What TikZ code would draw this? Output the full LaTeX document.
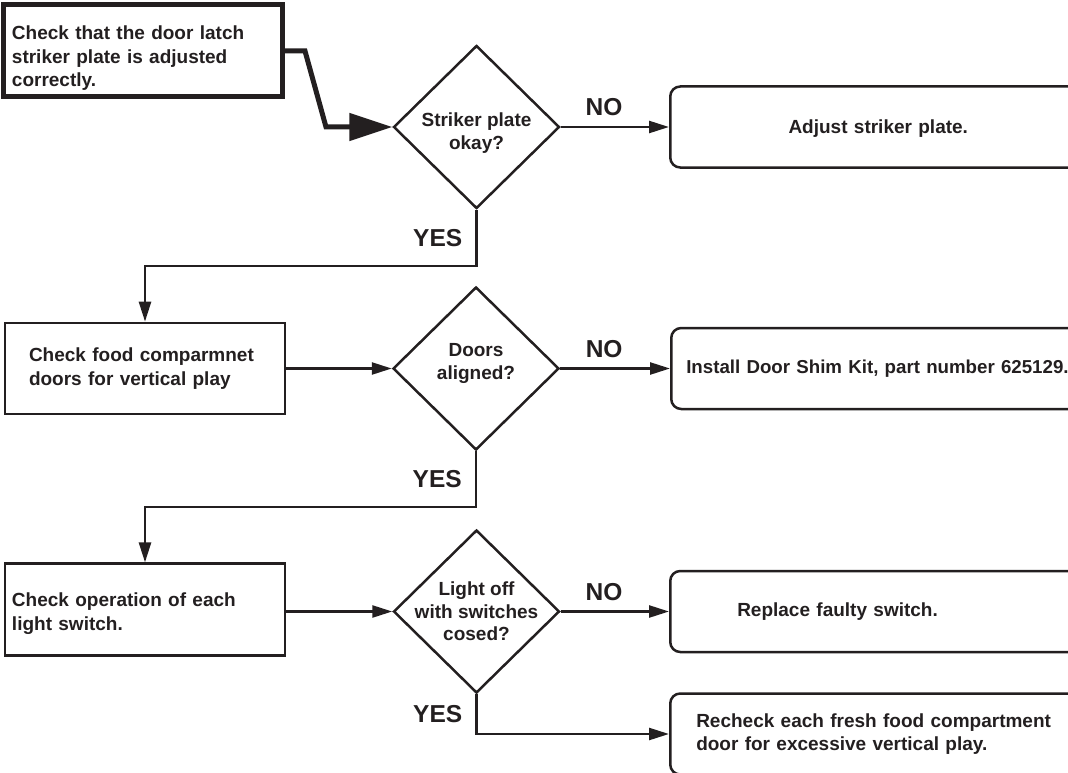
\documentclass[tikz,border=0pt]{standalone}
\usepackage{fontspec}
\setmainfont{Liberation Sans}
\usetikzlibrary{arrows.meta,shapes.geometric}
\definecolor{ink}{HTML}{231F20}

\begin{document}
\begin{tikzpicture}[x=1pt,y=-1pt,
  every node/.style={text=ink,font=\bfseries\fontsize{19}{23.7}\selectfont},
  stepbox/.style={draw=ink,line width=2.7pt,rectangle,minimum width=280pt,minimum height=91pt,align=left},
  fixbox/.style={draw=ink,line width=2.5pt,rounded corners=10pt,anchor=west,minimum height=81pt},
  decision/.style={draw=ink,line width=2.5pt,diamond,minimum width=166pt,minimum height=163pt,inner sep=0pt},
  qtext/.style={align=center,font=\bfseries\fontsize{19}{22.5}\selectfont},
  answer/.style={inner sep=0pt,font=\bfseries\fontsize{24.5}{26}\selectfont},
  flow/.style={draw=ink,line width=2.5pt,-{Triangle[length=20pt,width=12pt]}},
  bigflow/.style={draw=ink,line width=5pt,-{Triangle[length=43pt,width=27pt]}}]

  % Page
  \useasboundingbox (0,0) rectangle (1068,773);
  \clip (0,0) rectangle (1068,773);

  % ===== Row 1: striker plate =====
  \node[stepbox,line width=5pt,inner xsep=8pt,text width=262.5pt,minimum width=278.5pt,minimum height=92pt,text height=28pt] (b1) at (143.2,51) {Check that the door latch\\striker plate is adjusted\\correctly.};
  \node[decision] (d1) at (476.5,127) {};
  \node[qtext,yshift=-6pt] (q1) at (d1) {Striker plate\\okay?};
  \node[fixbox,align=center,inner xsep=12pt,text width=392pt,text depth=0pt] (f1) at (669,127) {Adjust striker plate.};

  \coordinate (k1) at (305,51);
  \coordinate (k2) at (326,127);
  \draw[bigflow] (b1.east) -- (k1) -- (k2) -- (d1.west);
  \draw[flow] (d1.east) -- node[answer,above=10pt,pos=0.4] (no1) {NO} (f1.west);

  % ===== Row 2: door play =====
  \node[stepbox,inner xsep=24pt,text width=232pt] (b2) at (145,368.5) {Check food comparmnet\\doors for vertical play};
  \node[decision] (d2) at (476,368.5) {};
  \node[qtext,yshift=5pt] (q2) at (d2) {Doors\\aligned?};
  \node[fixbox,align=left,inner xsep=11pt,text width=386pt,minimum width=416pt,font=\bfseries\fontsize{18.7}{23}\selectfont] (f2) at (670,368.5) {Install Door Shim Kit, part number 625129.};

  \coordinate (y1) at (476.5,266);
  \draw[flow] (d1.south) -- node[answer,left=13pt] (yes1) {YES} (y1) -| (b2.north);
  \draw[flow] (b2.east) -- (d2.west);
  \draw[flow] (d2.east) -- node[answer,above=10pt,pos=0.4] (no2) {NO} (f2.west);

  % ===== Row 3: light switch =====
  \node[stepbox,inner xsep=7pt,text width=266pt,minimum height=91.5pt,text height=21.7pt] (b3) at (145,609.5) {Check operation of each\\light switch.};
  \node[decision] (d3) at (476.5,611.5) {};
  \node[qtext] (q3) at (d3) {Light off\\with switches\\cosed?};
  \node[fixbox,align=left,inner xsep=67pt,text width=282pt] (f3) at (669,611.5) {Replace faulty switch.};
  \node[fixbox,align=left,inner xsep=26pt,text width=364pt] (f4) at (669,734) {Recheck each fresh food compartment\\door for excessive vertical play.};

  \coordinate (y2) at (476,507);
  \coordinate (y3) at (476.5,734);
  \draw[flow] (d2.south) -- node[answer,left=13pt] (yes2) {YES} (y2) -| (b3.north);
  \draw[flow] (b3.east |- d3.west) -- (d3.west);
  \draw[flow] (d3.east) -- node[answer,above=10pt,pos=0.4] (no3) {NO} (f3.west);
  \draw[flow] (d3.south) -- node[answer,left=13pt] (yes3) {YES} (y3) -- (f4.west);

\end{tikzpicture}
\end{document}
